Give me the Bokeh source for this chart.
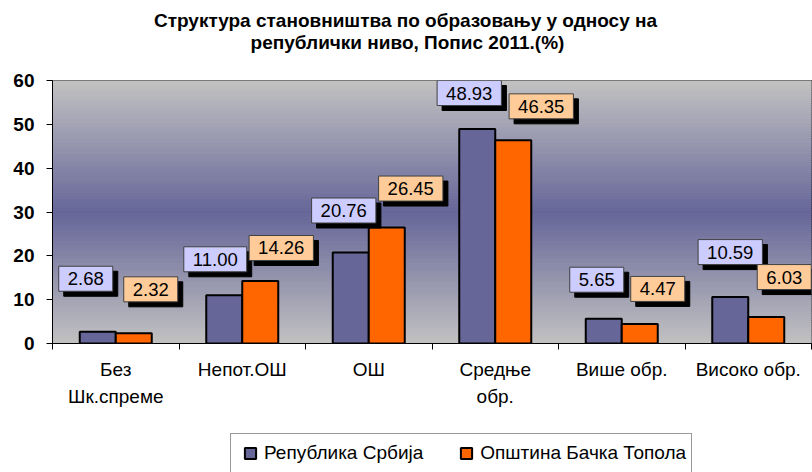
import numpy as np
from bokeh.plotting import figure
from bokeh.layouts import column
from bokeh.models import Range1d, FixedTicker, Legend, LegendItem, ColumnDataSource
from bokeh.embed import file_html
from bokeh.resources import INLINE
from bokeh.core.properties import value

# ---- data ----
categories = ["Без\nШк.спреме", "Непот.ОШ", "ОШ", "Средње\nобр.", "Више обр.", "Високо обр."]
serbia = [2.68, 11.00, 20.76, 48.93, 5.65, 10.59]
topola = [2.32, 14.26, 26.45, 46.35, 4.47, 6.03]
series_names = ["Република Србија", "Општина Бачка Топола"]
y_ticks = [0, 10, 20, 30, 40, 50, 60]
title_lines = ["Структура становништва по образовању у односу на",
               "републички ниво, Попис 2011.(%)"]

# label placement (style, px): horizontal shift and lift of box centre above bar top
serbia_dx = [-12, -9, -7, -8, -7, 0]
serbia_up = [53, 36, 42, 36, 39, 45]
topola_dx = [17, 21, 24, 28, 18, 18]
topola_up = [44, 33, 39, 34, 35, 40]

FONT = "Liberation Sans"
BLUE = "#666699"
ORANGE = "#FF6600"
n = len(categories)
bar_w = 0.2846
W = 812


def blank_fig(h):
    f = figure(width=W, height=h, x_range=Range1d(0, W), y_range=Range1d(h, 0),
               output_backend="svg", toolbar_location=None, x_axis_type=None, y_axis_type=None,
               min_border_left=0, min_border_right=0, min_border_top=0, min_border_bottom=0,
               frame_align=False)
    f.grid.visible = False
    f.outline_line_color = None
    f.background_fill_color = "white"
    f.border_fill_color = "white"
    return f


# ---- title strip ----
TH = 60
pt = blank_fig(TH)
pt.text(x=[405, 407], y=[20, 42], text=title_lines, text_align="center", text_baseline="middle",
        text_font=value(FONT), text_font_size=value("19px"), text_font_style="bold", text_color="black")

# ---- main chart ----
MH = 360
p = figure(width=W, height=MH, x_range=Range1d(0, n), y_range=Range1d(0, y_ticks[-1]),
           output_backend="svg", toolbar_location=None, frame_align=False,
           min_border_left=52, min_border_right=1, min_border_top=20, min_border_bottom=77)
p.border_fill_color = "white"
p.outline_line_color = "black"
p.outline_line_width = 1

# gradient background of the plot area
edges = np.linspace(y_ticks[0], y_ticks[-1], 121)
mids = (edges[:-1] + edges[1:]) / 2
centre = np.array([102, 102, 153])
edge_c = np.array([194, 194, 194])
half = (y_ticks[-1] - y_ticks[0]) / 2
cols = []
for m in mids:
    t = abs(m - (y_ticks[0] + half)) / half
    c = centre + (edge_c - centre) * t
    cols.append("#%02x%02x%02x" % tuple(int(round(v)) for v in c))
p.quad(left=0, right=n, bottom=edges[:-1], top=edges[1:], fill_color=cols, line_color=cols, line_width=1)

# grid
p.xgrid.visible = False
p.ygrid.ticker = FixedTicker(ticks=y_ticks)
p.ygrid.grid_line_color = "#303030"
p.ygrid.grid_line_width = 1

# bars
xs = np.arange(n) + 0.5
xb = xs - bar_w / 2
xo = xs + bar_w / 2
p.vbar(x=xb, width=bar_w, top=serbia, bottom=0, fill_color=BLUE, line_color="black", line_width=2)
p.vbar(x=xo, width=bar_w, top=topola, bottom=0, fill_color=ORANGE, line_color="black", line_width=2)


# value labels
def add_labels(x, vals, dx, up, bg):
    src = ColumnDataSource(dict(x=x, y=vals, t=["%.2f" % v for v in vals],
                                dx=dx, dy=[-u for u in up],
                                sdx=[d + 5 for d in dx], sdy=[-u + 5 for u in up]))
    common = dict(x="x", y="y", text="t", text_align="center", text_baseline="middle",
                  text_font=value(FONT), text_font_size=value("18.5px"), padding=(9, 6))
    p.text(source=src, x_offset="sdx", y_offset="sdy", text_color="black",
           background_fill_color="black", border_line_color="black", **common)
    p.text(source=src, x_offset="dx", y_offset="dy", text_color="black",
           background_fill_color=bg, border_line_color="#404040", border_line_width=1, **common)


add_labels(xb, serbia, serbia_dx, serbia_up, "#CCCCFF")
add_labels(xo, topola, topola_dx, topola_up, "#FFCC99")

# y axis
ya = p.yaxis[0]
ya.ticker = FixedTicker(ticks=y_ticks)
ya.major_label_text_font = FONT
ya.major_label_text_font_size = "19px"
ya.major_label_text_font_style = "bold"
ya.major_label_text_color = "black"
ya.major_tick_out = 6
ya.major_tick_in = 0
ya.minor_tick_out = 0
ya.minor_tick_in = 0
ya.major_label_standoff = 12
ya.axis_line_color = "black"
ya.major_tick_line_color = "black"

# x axis: labels at centres, tick marks at category boundaries
xa = p.xaxis[0]
xa.ticker = FixedTicker(ticks=list(xs), minor_ticks=list(range(n + 1)))
overrides = {}
for x, c in zip(xs, categories):
    overrides[float(x)] = c
    overrides["%g" % x] = c
xa.major_label_overrides = overrides
xa.major_label_text_font = FONT
xa.major_label_text_font_size = "19px"
xa.major_label_text_color = "black"
xa.major_label_text_line_height = 1.33
xa.major_tick_out = 0
xa.major_tick_in = 0
xa.minor_tick_out = 6
xa.minor_tick_in = 0
xa.minor_tick_line_color = "black"
xa.major_label_standoff = 9
xa.axis_line_color = "black"

# ---- legend strip (proxy markers lie far outside the visible range) ----
LH = 52
pl = blank_fig(LH)
g1 = pl.scatter(x=[-10 * W], y=[-10 * LH], marker="square", size=11,
                fill_color=BLUE, line_color="black", line_width=2)
g2 = pl.scatter(x=[-10 * W], y=[-10 * LH], marker="square", size=11,
                fill_color=ORANGE, line_color="black", line_width=2)
legend = Legend(items=[LegendItem(label=series_names[0], renderers=[g1]),
                       LegendItem(label=series_names[1], renderers=[g2])],
                orientation="horizontal", location=(230, -1),
                glyph_width=28, glyph_height=28, label_standoff=-12, spacing=29, padding=5,
                label_text_font=FONT, label_text_font_size="19px", label_text_color="black",
                border_line_color="#333333", border_line_width=1,
                background_fill_color="white", background_fill_alpha=1.0)
pl.add_layout(legend)

layout = column(pt, p, pl, spacing=0)
open("out.html", "w").write(file_html(layout, INLINE))
